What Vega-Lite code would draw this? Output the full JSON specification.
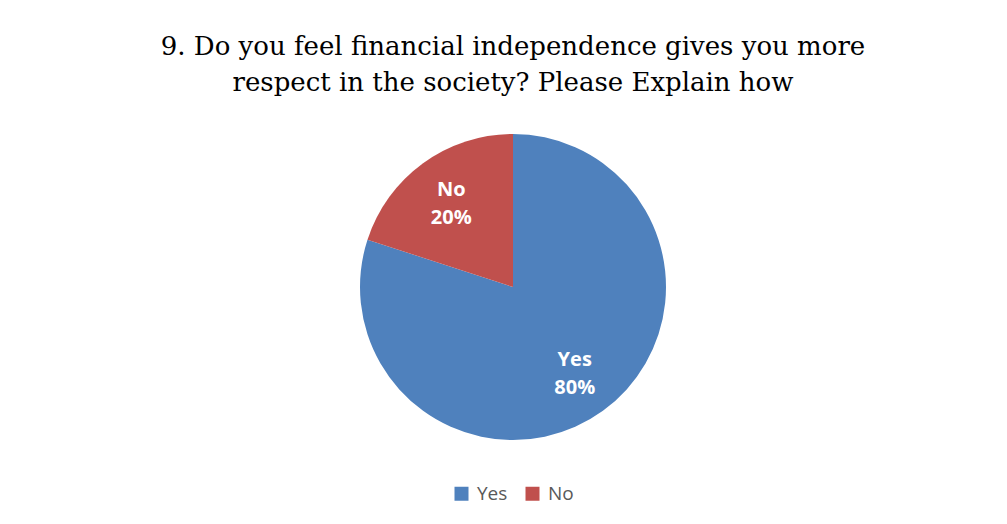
{
  "$schema": "https://vega.github.io/schema/vega-lite/v6.json",
  "width": 1007,
  "height": 524,
  "autosize": {"type": "fit", "contains": "padding"},
  "padding": {"left": 19, "right": 0, "top": 34, "bottom": 20},
  "background": "white",
  "config": {"view": {"stroke": null}, "legend": {"layout": {"bottom": {"anchor": "middle"}}}},
  "title": {
    "text": ["9. Do you feel financial independence gives you more", "respect in the society? Please Explain how"],
    "font": "DejaVu Serif",
    "fontSize": 26,
    "fontWeight": "normal",
    "color": "#000000",
    "lineHeight": 36,
    "anchor": "middle",
    "offset": 13
  },
  "data": {
    "values": [
      {"category": "Yes", "value": 80, "label": "Yes\n80%"},
      {"category": "No", "value": 20, "label": "No\n20%"}
    ]
  },
  "encoding": {
    "theta": {"field": "value", "type": "quantitative", "stack": true},
    "order": {"field": "value", "type": "quantitative", "sort": "descending"}
  },
  "layer": [
    {
      "mark": {"type": "arc", "outerRadius": 153},
      "encoding": {
        "color": {
          "field": "category",
          "type": "nominal",
          "scale": {"domain": ["Yes", "No"], "range": ["#4F81BD", "#C0504D"]},
          "legend": {
            "title": null,
            "orient": "bottom",
            "direction": "horizontal",
            "offset": 19,
            "symbolType": "square",
            "symbolSize": 196,
            "symbolStrokeWidth": 0,
            "symbolOpacity": 1,
            "labelFont": "Open Sans",
            "labelFontSize": 19,
            "labelColor": "#595959",
            "labelOffset": 6,
            "columnPadding": 15
          }
        }
      }
    },
    {
      "mark": {"type": "text", "radius": 105, "font": "Open Sans", "fontWeight": "bold", "fontSize": 20, "color": "white", "lineBreak": "\n", "lineHeight": 28, "baseline": "middle", "dy": -12},
      "encoding": {
        "text": {"field": "label", "type": "nominal"}
      }
    }
  ]
}
